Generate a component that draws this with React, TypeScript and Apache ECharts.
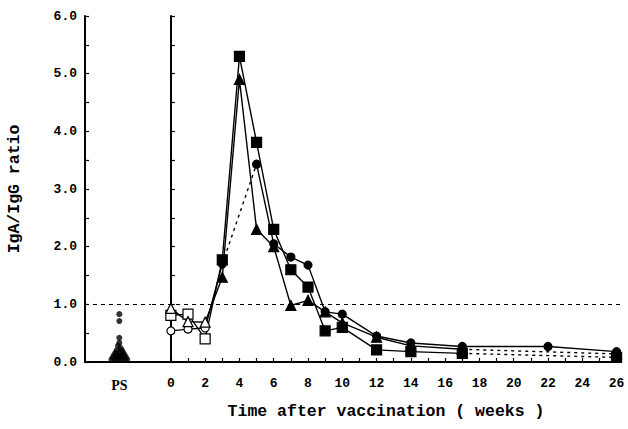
import React, { useEffect, useRef } from "react";
import * as echarts from "echarts";

// ---- Data ----
const weekLabels = [0, 2, 4, 6, 8, 10, 12, 14, 16, 18, 20, 22, 24, 26];
const weekTicks = [0, 1, 2, 3, 4, 5, 6, 7, 8, 9, 10, 11, 12, 13, 14, 15, 16, 17, 18, 19, 20, 21, 22, 23, 24, 25, 26];
const yTickValues = [0, 1, 2, 3, 4, 5, 6];

// PS (pre-immune) individual ratios with horizontal jitter positions
const psValues = [0.83, 0.71, 0.42, 0.33, 0.28, 0.24, 0.2, 0.2, 0.16, 0.16, 0.16, 0.12, 0.12, 0.12, 0.12, 0.08, 0.08, 0.08, 0.08, 0.08, 0.04, 0.04, 0.04, 0.04, 0.04, 0.04];
const psJitter = [0.52, 0.52, 0.52, 0.52, 0.5, 0.54, 0.48, 0.56, 0.46, 0.52, 0.58, 0.44, 0.5, 0.55, 0.6, 0.42, 0.47, 0.52, 0.57, 0.62, 0.4, 0.45, 0.5, 0.55, 0.6, 0.64];

// Circles
const circleWeeks = [0, 1, 2, 3, 5, 6, 7, 8, 9, 10, 12, 14, 17, 22, 26];
const circleVals = [0.54, 0.57, 0.59, 1.7, 3.43, 2.05, 1.82, 1.68, 0.87, 0.83, 0.45, 0.33, 0.27, 0.27, 0.18];
const circleDotted = [3]; // segment index i -> i+1 drawn dotted

// Squares
const squareWeeks = [0, 1, 2, 3, 4, 5, 6, 7, 8, 9, 10, 12, 14, 17, 26];
const squareVals = [0.81, 0.83, 0.4, 1.77, 5.3, 3.81, 2.3, 1.6, 1.3, 0.54, 0.6, 0.21, 0.18, 0.15, 0.08];
const squareDotted = [13];

// Triangles
const triWeeks = [0, 1, 2, 3, 4, 5, 6, 7, 8, 9, 10, 12, 14, 17, 26];
const triVals = [0.93, 0.7, 0.69, 1.47, 4.9, 2.3, 2.0, 0.98, 1.07, 0.87, 0.68, 0.43, 0.28, 0.22, 0.14];
const triDotted = [13];

const preVaccinationCount = 3; // weeks 0-2 drawn as open symbols

const MONO = "Liberation Mono";

function buildSeries(weeks: number[], vals: number[], dotted: number[], symbol: string, size: number) {
  const solid: any[] = [];
  weeks.forEach((w, i) => {
    solid.push({
      value: [w, vals[i]],
      itemStyle: {
        color: i < preVaccinationCount ? "#fff" : "#000",
        borderColor: "#000",
        borderWidth: 1.2,
      },
    });
    if (dotted.includes(i)) solid.push("-");
  });
  const out: any[] = [
    {
      type: "line",
      xAxisIndex: 1,
      yAxisIndex: 1,
      data: solid,
      symbol,
      symbolSize: size,
      connectNulls: false,
      lineStyle: { color: "#000", width: 1.4 },
      z: 3,
    },
  ];
  dotted.forEach((i) => {
    out.push({
      type: "line",
      xAxisIndex: 1,
      yAxisIndex: 1,
      data: [
        [weeks[i], vals[i]],
        [weeks[i + 1], vals[i + 1]],
      ],
      symbol: "none",
      lineStyle: { color: "#000", width: 1.4, type: [3, 4] },
      z: 2,
    });
  });
  return out;
}

export default function App() {
  const ref = useRef<HTMLDivElement>(null);
  useEffect(() => {
    if (!ref.current) return;
    const chart = echarts.init(ref.current, null, { renderer: "svg" });
    const axisLine = { show: true, lineStyle: { color: "#000", width: 2 } };
    const refLine = {
      silent: true,
      symbol: "none",
      label: { show: false },
      lineStyle: { color: "#000", width: 1, type: [4, 4] },
      data: [{ yAxis: 1 }],
    };
    chart.setOption({
      animation: false,
      backgroundColor: "#fff",
      grid: [
        { left: 85, top: 16, width: 66, height: 346 },
        { left: 152, top: 16, width: 468, height: 346 },
      ],
      xAxis: [
        {
          gridIndex: 0,
          type: "value",
          min: 0,
          max: 1,
          axisLine,
          axisTick: { show: false },
          splitLine: { show: false },
          axisLabel: {
            customValues: [0.52],
            formatter: () => "PS",
            margin: 16,
            color: "#000",
            fontFamily: "Liberation Serif",
            fontWeight: "bold",
            fontSize: 14,
          },
        },
        {
          gridIndex: 1,
          type: "value",
          min: -1.1,
          max: 26.2,
          axisLine,
          splitLine: { show: false },
          axisTick: { show: true, inside: true, length: 4, customValues: weekTicks, lineStyle: { color: "#000", width: 1.2 } },
          axisLabel: {
            customValues: weekLabels,
            margin: 15,
            color: "#000",
            fontFamily: MONO,
            fontWeight: "bold",
            fontSize: 13,
          },
          name: "Time after vaccination ( weeks )",
          nameLocation: "middle",
          nameGap: 41,
          nameTextStyle: { color: "#000", fontFamily: MONO, fontSize: 16.5, fontWeight: "bold" },
        },
      ],
      yAxis: [
        {
          gridIndex: 0,
          type: "value",
          min: 0,
          max: 6,
          interval: 0.5,
          axisLine,
          splitLine: { show: false },
          axisTick: { show: true, inside: true, length: 4, lineStyle: { color: "#000", width: 1.2 } },
          axisLabel: {
            formatter: (v: number) => (yTickValues.includes(v) ? v.toFixed(1) : ""),
            margin: 8,
            color: "#000",
            fontFamily: MONO,
            fontWeight: "bold",
            fontSize: 13,
          },
          name: "IgA/IgG ratio",
          nameLocation: "middle",
          nameGap: 62,
          nameTextStyle: { color: "#000", fontFamily: MONO, fontSize: 16.5, fontWeight: "bold" },
        },
        {
          gridIndex: 1,
          type: "value",
          min: 0,
          max: 6,
          interval: 0.5,
          axisLine,
          splitLine: { show: false },
          axisTick: { show: true, inside: true, length: 4, lineStyle: { color: "#000", width: 1.2 } },
          axisLabel: { show: false },
        },
      ],
      series: [
        {
          type: "scatter",
          xAxisIndex: 0,
          yAxisIndex: 0,
          data: psValues.map((v, i) => [psJitter[i], v]),
          symbol: "circle",
          symbolSize: 6,
          itemStyle: { color: "#000" },
          markLine: refLine,
        },
        {
          type: "line",
          xAxisIndex: 1,
          yAxisIndex: 1,
          data: [],
          markLine: refLine,
        },
        ...buildSeries(circleWeeks, circleVals, circleDotted, "circle", 8),
        ...buildSeries(squareWeeks, squareVals, squareDotted, "rect", 10),
        ...buildSeries(triWeeks, triVals, triDotted, "triangle", 10),
      ],
    });
    return () => chart.dispose();
  }, []);
  return <div ref={ref} style={{ position: "fixed", left: 0, top: 0, width: 628, height: 429 }} />;
}
